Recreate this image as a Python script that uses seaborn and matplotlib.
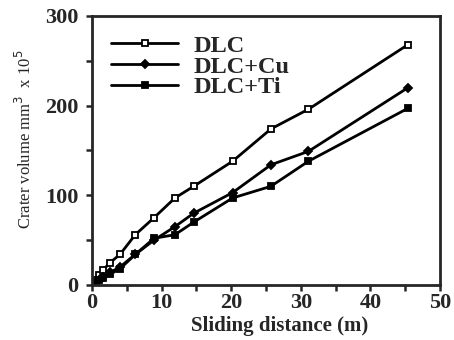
import matplotlib
matplotlib.use("Agg")
import matplotlib.pyplot as plt
import seaborn as sns
import pandas as pd
from matplotlib.ticker import MultipleLocator

# sliding distance (m) and crater volume (mm^3 x 10^5)
distance = [0, 0.5, 1, 1.6, 2.6, 4, 6.2, 8.9, 11.9, 14.6, 20.2, 25.7, 31.1, 45.4]
vol_dlc = [0, 5, 11, 17, 25, 34, 56, 75, 97, 110, 138, 174, 196, 268]
vol_cu = [0, 3, 6, 9, 14, 20, 34, 50, 65, 80, 103, 134, 149, 220]
vol_ti = [0, 3, 6, 8, 12, 18, 34, 52, 56, 70, 97, 110, 138, 197]

series = {"DLC": vol_dlc, "DLC+Cu": vol_cu, "DLC+Ti": vol_ti}
markers = {"DLC": "s", "DLC+Cu": "D", "DLC+Ti": "s"}
faces = {"DLC": "white", "DLC+Cu": "black", "DLC+Ti": "black"}
sizes = {"DLC": 4.2, "DLC+Cu": 3.6, "DLC+Ti": 4.6}

sns.set_style("ticks")
plt.rcParams["font.family"] = ["Liberation Serif", "DejaVu Serif"]

fig = plt.figure(figsize=(4.54, 3.40), dpi=100)
ax = fig.add_axes([0.203, 0.162, 0.766, 0.791])

for name, vals in series.items():
    df = pd.DataFrame({"x": distance, "y": vals})
    sns.lineplot(data=df, x="x", y="y", ax=ax, color="black", linewidth=2,
                 marker=markers[name], markersize=sizes[name],
                 markerfacecolor=faces[name], markeredgecolor="black",
                 markeredgewidth=1.3, label=name, sort=False)

ax.set_xlim(0, 50)
ax.set_ylim(0, 300)
ax.xaxis.set_major_locator(MultipleLocator(10))
ax.xaxis.set_minor_locator(MultipleLocator(5))
ax.yaxis.set_major_locator(MultipleLocator(100))
ax.yaxis.set_minor_locator(MultipleLocator(50))
ax.tick_params(which="both", direction="out", width=1.8, length=4, labelsize=16)
ax.tick_params(axis="x", pad=2)
ax.tick_params(axis="y", pad=6)
for lab in ax.get_xticklabels() + ax.get_yticklabels():
    lab.set_fontweight("bold")
for sp in ax.spines.values():
    sp.set_linewidth(2)

ax.set_xlabel("Sliding distance (m)", fontsize=15, fontweight="bold")
ax.xaxis.set_label_coords(0.54, -0.115)
ax.set_ylabel("Crater volume mm$^3$  x 10$^5$", fontsize=12)
ax.yaxis.set_label_coords(-0.165, 0.54)

leg = ax.legend(loc="upper left", frameon=False, fontsize=17.5, handlelength=2.75,
                borderaxespad=0, borderpad=0, labelspacing=-0.05, handletextpad=0.65,
                bbox_to_anchor=(0.055, 0.93))
for t in leg.get_texts():
    t.set_fontweight("bold")

fig.savefig("out.png", dpi=100)
